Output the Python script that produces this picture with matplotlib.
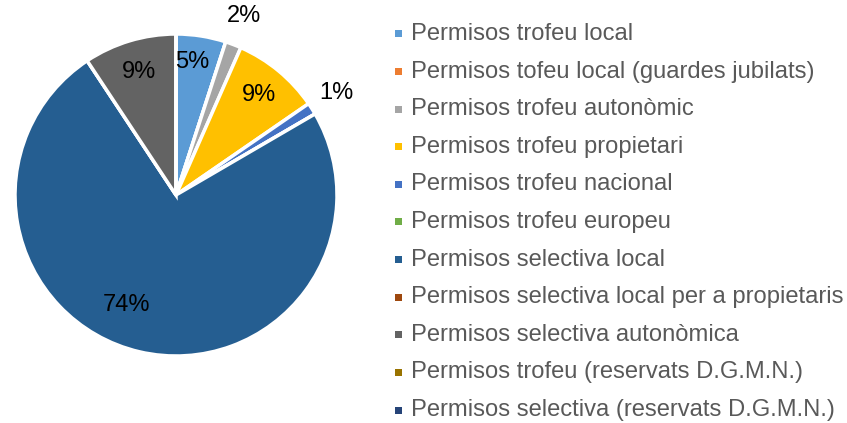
import matplotlib
matplotlib.use("Agg")
import matplotlib.pyplot as plt
from matplotlib.patches import Rectangle
import numpy as np

categories = [
    "Permisos trofeu local",
    "Permisos tofeu local (guardes jubilats)",
    "Permisos trofeu autonòmic",
    "Permisos trofeu propietari",
    "Permisos trofeu nacional",
    "Permisos trofeu europeu",
    "Permisos selectiva local",
    "Permisos selectiva local per a propietaris",
    "Permisos selectiva autonòmica",
    "Permisos trofeu (reservats D.G.M.N.)",
    "Permisos selectiva (reservats D.G.M.N.)",
]
values = [5.0, 0.0, 1.6, 8.8, 1.2, 0.0, 74.1, 0.0, 9.3, 0.0, 0.0]
colors = ["#5B9BD5", "#ED7D31", "#A5A5A5", "#FFC000", "#4472C4", "#70AD47",
          "#255E91", "#9E480E", "#636363", "#997300", "#264478"]

# label radius (fraction of pie radius) and angular offset (deg) per slice
label_r = [0.83, 1, 1.19, 0.81, 1.18, 1, 0.75, 1, 0.8, 1, 1]
label_da = [2, 0, 0, 0, 0, 0, -11, 0, 0, 0, 0]

plt.rcParams['font.family'] = ['Liberation Sans', 'DejaVu Sans']
W, H = 847, 423
fig = plt.figure(figsize=(W / 100, H / 100), dpi=100)

cx, cy, R = 176, 195, 161
ax = fig.add_axes([(cx - R) / W, (H - cy - R) / H, 2 * R / W, 2 * R / H])
wedges, _ = ax.pie(values, colors=colors, startangle=90, counterclock=False,
                   wedgeprops=dict(edgecolor="white", linewidth=2.5))
ax.set_xlim(-1, 1)
ax.set_ylim(-1, 1)
ax.set_aspect("equal")
ax.axis("off")

total = sum(values)
for w, v, r, da in zip(wedges, values, label_r, label_da):
    if v <= 0:
        continue
    ang = np.deg2rad((w.theta1 + w.theta2) / 2 + da)
    ax.text(r * np.cos(ang), r * np.sin(ang), f"{round(v / total * 100):d}%",
            ha="center", va="center", fontsize=17, color="#000000",
            clip_on=False)

# legend drawn manually
y0, dy = 34, 37.6
for i, (lab, col) in enumerate(zip(categories, colors)):
    y = y0 + i * dy
    fig.patches.append(Rectangle(((395) / W, (H - y - 3.5) / H), 7 / W, 7 / H,
                                 transform=fig.transFigure, facecolor=col,
                                 edgecolor="none"))
    fig.text(411 / W, (H - y) / H, lab, ha="left", va="center",
             fontsize=17.1, color="#595959")

fig.savefig("out.png", dpi=100, facecolor="white")
